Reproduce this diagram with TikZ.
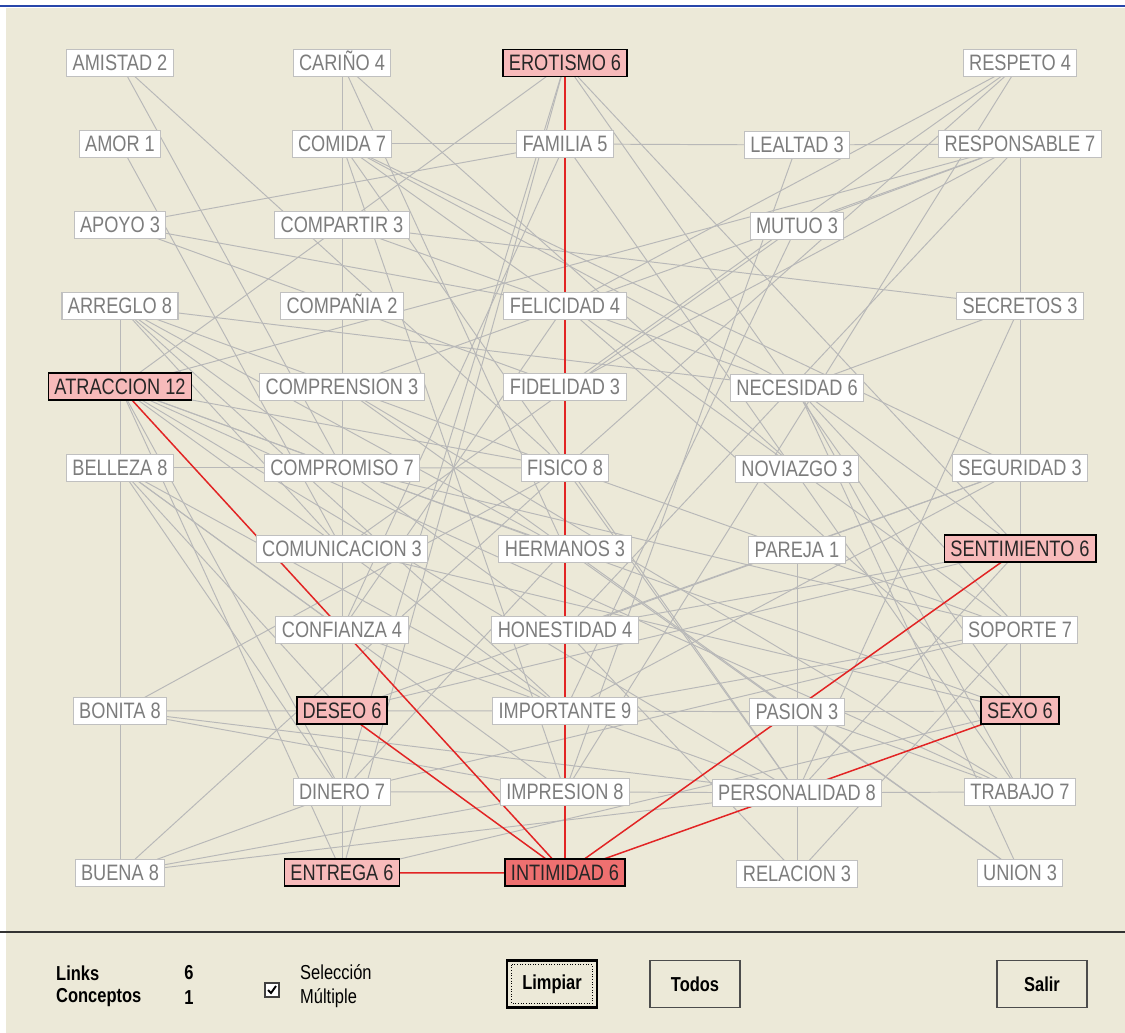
\documentclass[tikz,border=0pt]{standalone}
\usepackage{fontspec}
\setmainfont{Liberation Sans}[FakeStretch=0.815]
\usetikzlibrary{positioning}

\definecolor{panelbg}{RGB}{236,233,216}
\definecolor{linkgrey}{RGB}{184,184,184}
\definecolor{textgrey}{RGB}{125,125,125}
\definecolor{boxgrey}{RGB}{192,192,192}
\definecolor{selpink}{RGB}{247,186,186}
\definecolor{selred}{RGB}{238,112,112}
\definecolor{linkred}{RGB}{226,36,36}
\definecolor{titleblue}{RGB}{40,70,170}

\newcommand{\conceptfont}{\fontsize{12.7}{14}\selectfont}
\newcommand{\panelfont}{\fontsize{11.5}{13}\selectfont}

\pgfdeclarelayer{back}
\pgfdeclarelayer{wires}
\pgfsetlayers{back,wires,main}

\tikzset{
  concept/.style={draw=boxgrey, fill=white, text=textgrey, line width=0.6pt,
    minimum height=0.54cm, inner xsep=3.4pt, inner ysep=1pt, outer sep=0pt,
    text height=9.1pt, text depth=0pt, font=\conceptfont},
  picked/.style={concept, draw=black, fill=selpink, text=black!85, line width=1.1pt},
  core/.style={picked, fill=selred},
  link/.style={draw=linkgrey, line width=0.55pt},
  hot/.style={draw=linkred, line width=0.85pt},
  button/.style={draw=black!70, fill=panelbg, line width=0.8pt, minimum width=1.8cm,
    minimum height=0.95cm, font=\panelfont\bfseries},
}

\begin{document}
\begin{tikzpicture}[x=0.02cm, y=-0.02cm]
  \useasboundingbox (0,0) rectangle (1125,1033);

  % column A
  \node[concept] (amistad)      at (120,63)                    {AMISTAD 2};
  \node[concept] (amor)         [below=1.08cm of amistad]      {AMOR 1};
  \node[concept] (apoyo)        [below=1.08cm of amor]         {APOYO 3};
  \node[concept] (arreglo)      [below=1.08cm of apoyo]        {ARREGLO 8};
  \node[picked]  (atraccion)    [below=1.08cm of arreglo]      {ATRACCION 12};
  \node[concept] (belleza)      [below=1.08cm of atraccion]    {BELLEZA 8};
  \node[concept] (bonita)       [below=4.32cm of belleza]      {BONITA 8};
  \node[concept] (buena)        [below=2.70cm of bonita]       {BUENA 8};
  % column C
  \node[concept] (carino)       at (342,63)                    {CARIÑO 4};
  \node[concept] (comida)       [below=1.08cm of carino]       {COMIDA 7};
  \node[concept] (compartir)    [below=1.08cm of comida]       {COMPARTIR 3};
  \node[concept] (compania)     [below=1.08cm of compartir]    {COMPAÑIA 2};
  \node[concept] (comprension)  [below=1.08cm of compania]     {COMPRENSION 3};
  \node[concept] (compromiso)   [below=1.08cm of comprension]  {COMPROMISO 7};
  \node[concept] (comunicacion) [below=1.08cm of compromiso]   {COMUNICACION 3};
  \node[concept] (confianza)    [below=1.08cm of comunicacion] {CONFIANZA 4};
  \node[picked]  (deseo)        [below=1.08cm of confianza]    {DESEO 6};
  \node[concept] (dinero)       [below=1.08cm of deseo]        {DINERO 7};
  \node[picked]  (entrega)      [below=1.08cm of dinero]       {ENTREGA 6};
  % column E
  \node[picked]  (erotismo)     at (565,63)                    {EROTISMO 6};
  \node[concept] (familia)      [below=1.08cm of erotismo]     {FAMILIA 5};
  \node[concept] (felicidad)    [below=2.70cm of familia]      {FELICIDAD 4};
  \node[concept] (fidelidad)    [below=1.08cm of felicidad]    {FIDELIDAD 3};
  \node[concept] (fisico)       [below=1.08cm of fidelidad]    {FISICO 8};
  \node[concept] (hermanos)     [below=1.08cm of fisico]       {HERMANOS 3};
  \node[concept] (honestidad)   [below=1.08cm of hermanos]     {HONESTIDAD 4};
  \node[concept] (importante)   [below=1.08cm of honestidad]   {IMPORTANTE 9};
  \node[concept] (impresion)    [below=1.08cm of importante]   {IMPRESION 8};
  \node[core]    (intimidad)    [below=1.08cm of impresion]    {INTIMIDAD 6};
  % column L
  \node[concept] (lealtad)      at (797,145)                   {LEALTAD 3};
  \node[concept] (mutuo)        [below=1.08cm of lealtad]      {MUTUO 3};
  \node[concept] (necesidad)    [below=2.70cm of mutuo]        {NECESIDAD 6};
  \node[concept] (noviazgo)     [below=1.08cm of necesidad]    {NOVIAZGO 3};
  \node[concept] (pareja)       [below=1.08cm of noviazgo]     {PAREJA 1};
  \node[concept] (pasion)       [below=2.70cm of pareja]       {PASION 3};
  \node[concept] (personalidad) [below=1.08cm of pasion]       {PERSONALIDAD 8};
  \node[concept] (relacion)     [below=1.08cm of personalidad] {RELACION 3};
  % column R
  \node[concept] (respeto)      at (1020,63)                   {RESPETO 4};
  \node[concept] (responsable)  [below=1.08cm of respeto]      {RESPONSABLE 7};
  \node[concept] (secretos)     [below=2.70cm of responsable]  {SECRETOS 3};
  \node[concept] (seguridad)    [below=2.70cm of secretos]     {SEGURIDAD 3};
  \node[picked]  (sentimiento)  [below=1.08cm of seguridad]    {SENTIMIENTO 6};
  \node[concept] (soporte)      [below=1.08cm of sentimiento]  {SOPORTE 7};
  \node[picked]  (sexo)         [below=1.08cm of soporte]      {SEXO 6};
  \node[concept] (trabajo)      [below=1.08cm of sexo]         {TRABAJO 7};
  \node[concept] (union)        [below=1.08cm of trabajo]      {UNION 3};

  % panel
  \node[font=\panelfont\bfseries, anchor=west] (links)     at (50,973)  {Links};
  \node[font=\panelfont\bfseries, anchor=west] (conceptos) at (50,998)  {Conceptos};
  \node[font=\panelfont\bfseries]              (nlinks)    at (189,973) {6};
  \node[font=\panelfont\bfseries]              (nconc)     at (189,998) {1};
  \node[draw=black!75, fill=white, line width=0.6pt, minimum size=0.28cm, inner sep=0pt] (check) at (272,990) {};
  \node[font=\panelfont, anchor=west] (sel)  at (294,972) {Selección};
  \node[font=\panelfont, anchor=west] (mult) at (294,998) {Múltiple};
  \node[button, line width=1.6pt, draw=black] (limpiar) at (552,984) {Limpiar};
  \node[button] (todos) at (695,984) {Todos};
  \node[button] (salir) at (1042,984) {Salir};
  \draw[black, densely dotted, line width=0.5pt] ([shift={(6,6)}]limpiar.north west) rectangle ([shift={(-6,-6)}]limpiar.south east);
  \draw[black, line width=1.1pt] ([shift={(-4,0)}]check.center) -- ([shift={(-1,3)}]check.center) -- ([shift={(4,-4)}]check.center);

  \begin{pgfonlayer}{back}
    \fill[white] (0,0) rectangle (1125,1033);
    \fill[panelbg] (6,8) rectangle (1125,1033);
    \draw[titleblue, line width=1.2pt] (0,6) -- (1125,6);
    \draw[black!80, line width=1.6pt] (0,932) -- (1125,932);
  \end{pgfonlayer}

  \begin{pgfonlayer}{wires}
    \draw[link] (amistad) -- (fisico);
    \draw[link] (amistad) -- (compromiso);
    \draw[link] (amor) -- (comunicacion);
    \draw[link] (apoyo) -- (familia);
    \draw[link] (apoyo) -- (felicidad);
    \draw[link] (apoyo) -- (fidelidad);
    \draw[link] (carino) -- (entrega);
    \draw[link] (arreglo) -- (buena);
    \draw[link] (pareja) -- (relacion);
    \draw[link] (responsable) -- (trabajo);
    \draw[link] (comida) -- (familia);
    \draw[link] (familia) -- (lealtad);
    \draw[link] (lealtad) -- (responsable);
    \draw[link] (belleza) -- (compromiso);
    \draw[link] (compromiso) -- (fisico);
    \draw[link] (bonita) -- (deseo);
    \draw[link] (deseo) -- (importante);
    \draw[link] (importante) -- (pasion);
    \draw[link] (pasion) -- (sexo);
    \draw[link] (pasion) -- (trabajo);
    \draw[link] (dinero) -- (impresion);
    \draw[link] (impresion) -- (personalidad);
    \draw[link] (personalidad) -- (trabajo);
    \draw[link] (bonita) -- (personalidad);
    \draw[link] (bonita) -- (impresion);
    \draw[link] (bonita) -- (fisico);
    \draw[link] (buena) -- (fisico);
    \draw[link] (buena) -- (dinero);
    \draw[link] (buena) -- (impresion);
    \draw[link] (buena) -- (personalidad);
    \draw[link] (atraccion) -- (erotismo);
    \draw[link] (atraccion) -- (fisico);
    \draw[link] (atraccion) -- (hermanos);
    \draw[link] (atraccion) -- (entrega);
    \draw[link] (carino) -- (hermanos);
    \draw[link] (carino) -- (noviazgo);
    \draw[link] (comida) -- (noviazgo);
    \draw[link] (comida) -- (necesidad);
    \draw[link] (respeto) -- (fidelidad);
    \draw[link] (respeto) -- (fisico);
    \draw[link] (respeto) -- (felicidad);
    \draw[link] (respeto) -- (impresion);
    \draw[link] (responsable) -- (mutuo);
    \draw[link] (responsable) -- (fidelidad);
    \draw[link] (erotismo) -- (entrega);
    \draw[link] (erotismo) -- (dinero);
    \draw[link] (erotismo) -- (sexo);
    \draw[link] (erotismo) -- (sentimiento);
    \draw[link] (familia) -- (trabajo);
    \draw[link] (familia) -- (confianza);
    \draw[link] (lealtad) -- (impresion);
    \draw[link] (mutuo) -- (importante);
    \draw[link] (compartir) -- (secretos);
    \draw[link] (secretos) -- (necesidad);
    \draw[link] (secretos) -- (personalidad);
    \draw[link] (necesidad) -- (sentimiento);
    \draw[link] (necesidad) -- (soporte);
    \draw[link] (necesidad) -- (union);
    \draw[link] (hermanos) -- (union);
    \draw[link] (seguridad) -- (honestidad);
    \draw[link] (seguridad) -- (importante);
    \draw[link] (sentimiento) -- (honestidad);
    \draw[link] (sentimiento) -- (deseo);
    \draw[link] (sentimiento) -- (personalidad);
    \draw[link] (soporte) -- (importante);
    \draw[link] (soporte) -- (dinero);
    \draw[link] (soporte) -- (noviazgo);
    \draw[link] (soporte) -- (fisico);
    \draw[link] (soporte) -- (relacion);
    \draw[link] (soporte) -- (compromiso);
    \draw[link] (sexo) -- (entrega);
    \draw[link] (sexo) -- (comunicacion);
    \draw[link] (sexo) -- (felicidad);
    \draw[link] (trabajo) -- (necesidad);
    \draw[link] (trabajo) -- (comprension);
    \draw[link] (trabajo) -- (atraccion);
    \draw[link] (union) -- (comprension);
    \draw[link] (responsable) -- (comprension);
    \draw[link] (responsable) -- (honestidad);
    \draw[link] (responsable) -- (atraccion);
    \draw[link] (mutuo) -- (comunicacion);
    \draw[link] (personalidad) -- (fisico);
    \draw[link] (personalidad) -- (confianza);
    \draw[link] (relacion) -- (honestidad);
    \draw[link] (dinero) -- (hermanos);
    \draw[link] (arreglo) -- (fisico);
    \draw[link] (arreglo) -- (hermanos);
    \draw[link] (arreglo) -- (honestidad);
    \draw[link] (arreglo) -- (comunicacion);
    \draw[link] (arreglo) -- (importante);
    \draw[link] (arreglo) -- (necesidad);
    \draw[link] (belleza) -- (importante);
    \draw[link] (belleza) -- (impresion);
    \draw[link] (belleza) -- (dinero);
    \draw[link] (belleza) -- (deseo);
    \draw[link] (belleza) -- (confianza);
    \draw[link] (atraccion) -- (compromiso);
    \draw[link] (atraccion) -- (importante);
    \draw[link] (atraccion) -- (dinero);
    \draw[link] (atraccion) -- (personalidad);
    \draw[link] (comida) -- (seguridad);
    \draw[link] (comida) -- (personalidad);
    \draw[link] (comida) -- (impresion);
    \draw[link] (compartir) -- (necesidad);
    \draw[link] (compromiso) -- (sexo);
    \draw[link] (confianza) -- (felicidad);
    \draw[link] (deseo) -- (seguridad);
    % selected links
    \draw[hot] (erotismo) -- (intimidad);
    \draw[hot] (atraccion) -- (intimidad);
    \draw[hot] (deseo) -- (intimidad);
    \draw[hot] (entrega) -- (intimidad);
    \draw[hot] (sentimiento) -- (intimidad);
    \draw[hot] (sexo) -- (intimidad);
  \end{pgfonlayer}
\end{tikzpicture}
\end{document}
